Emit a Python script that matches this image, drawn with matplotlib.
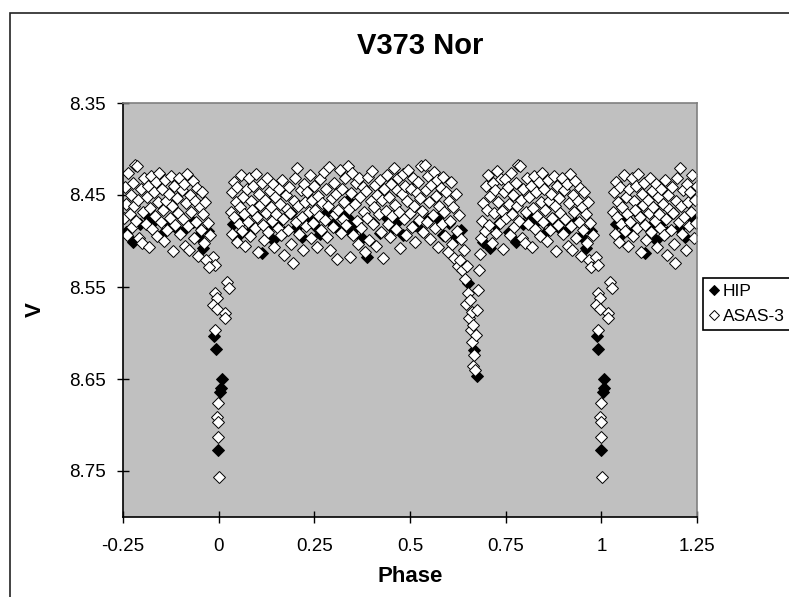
import matplotlib
matplotlib.use('Agg')
import matplotlib.pyplot as plt
from matplotlib.patches import Rectangle
from matplotlib.lines import Line2D
import numpy as np

# ---------------- data (phase folded over one cycle, -0.02 .. 0.98) ----------------
hip_phase = [0.038, 0.052, 0.067, 0.081, 0.098, 0.113, 0.128, 0.142, 0.158, 0.172,
             0.188, 0.203, 0.219, 0.236, 0.251, 0.266, 0.283, 0.298, 0.314, 0.328,
             0.337, 0.343, 0.347, 0.362, 0.375, 0.388, 0.403, 0.422, 0.437, 0.452,
             0.468, 0.483, 0.498, 0.514, 0.531, 0.548, 0.570, 0.586, 0.603, 0.619,
             0.634, 0.651, 0.667, 0.675, 0.691, 0.709, 0.724, 0.741, 0.758, 0.776,
             0.794, 0.812, 0.832, 0.851, 0.868, 0.889, 0.910, 0.932, 0.946, 0.959,
             0.972, -0.011, -0.008, 0.008, 0.006, 0.004, -0.002]
hip_mag = [8.481, 8.494, 8.476, 8.489, 8.472, 8.513, 8.485, 8.499, 8.479, 8.490,
           8.470, 8.486, 8.496, 8.475, 8.484, 8.492, 8.469, 8.481, 8.488, 8.472,
           8.455, 8.477, 8.491, 8.484, 8.497, 8.517, 8.480, 8.491, 8.474, 8.486,
           8.478, 8.494, 8.471, 8.483, 8.489, 8.476, 8.475, 8.493, 8.480, 8.496,
           8.488, 8.546, 8.619, 8.647, 8.501, 8.508, 8.484, 8.477, 8.490, 8.501,
           8.482, 8.473, 8.478, 8.492, 8.480, 8.486, 8.488, 8.479, 8.495, 8.508,
           8.489, 8.603, 8.617, 8.650, 8.660, 8.664, 8.727]

asas_phase = [
    0.031, 0.034, 0.036, 0.039, 0.041, 0.044, 0.047, 0.049, 0.052, 0.055, 0.058, 0.061, 0.064, 0.067, 0.070, 0.073, 0.076,
    0.079, 0.082, 0.085, 0.088, 0.091, 0.094, 0.097, 0.100, 0.103, 0.106, 0.109, 0.112, 0.115, 0.118, 0.121, 0.124, 0.127,
    0.130, 0.133, 0.136, 0.139, 0.142, 0.145, 0.148, 0.151, 0.154, 0.157, 0.160, 0.163, 0.166, 0.169, 0.172, 0.175, 0.178,
    0.181, 0.184, 0.187, 0.190, 0.193, 0.196, 0.199, 0.202, 0.205, 0.208, 0.211, 0.214, 0.217, 0.220, 0.223, 0.226, 0.229,
    0.232, 0.235, 0.238, 0.241, 0.244, 0.247, 0.250, 0.253, 0.256, 0.259, 0.262, 0.265, 0.268, 0.271, 0.274, 0.277, 0.280,
    0.283, 0.286, 0.289, 0.292, 0.295, 0.298, 0.301, 0.304, 0.307, 0.310, 0.313, 0.316, 0.319, 0.322, 0.325, 0.328, 0.331,
    0.334, 0.337, 0.340, 0.343, 0.346, 0.349, 0.352, 0.355, 0.358, 0.361, 0.364, 0.367, 0.370, 0.373, 0.376, 0.379, 0.382,
    0.385, 0.388, 0.391, 0.394, 0.397, 0.400, 0.403, 0.406, 0.409, 0.412, 0.415, 0.418, 0.421, 0.424, 0.427, 0.430,
    0.433, 0.436, 0.439, 0.442, 0.445, 0.448, 0.451, 0.454, 0.457, 0.460, 0.463, 0.466, 0.469, 0.472, 0.475, 0.478,
    0.481, 0.484, 0.487, 0.490, 0.493, 0.496, 0.499, 0.502, 0.505, 0.508, 0.511, 0.514, 0.517, 0.520, 0.523, 0.526, 0.529,
    0.532, 0.535, 0.538, 0.541, 0.544, 0.547, 0.550, 0.553, 0.556, 0.559, 0.562, 0.565, 0.568, 0.571, 0.574, 0.577,
    0.580, 0.583, 0.586, 0.589, 0.592, 0.595, 0.598, 0.601, 0.604, 0.607, 0.610, 0.613, 0.616, 0.619, 0.622, 0.625,
    0.628, 0.631, 0.634, 0.637, 0.640, 0.643, 0.646, 0.649, 0.652, 0.654, 0.657, 0.660, 0.662, 0.662, 0.665, 0.665,
    0.668, 0.670, 0.672, 0.674, 0.677, 0.680, 0.683, 0.686, 0.689, 0.692, 0.695, 0.698,
    0.701, 0.704, 0.707, 0.710, 0.713, 0.716, 0.719, 0.722, 0.725, 0.728, 0.731, 0.734, 0.737, 0.740, 0.743, 0.746, 0.749,
    0.752, 0.755, 0.758, 0.761, 0.764, 0.767, 0.770, 0.773, 0.776, 0.779, 0.782, 0.785, 0.787, 0.790, 0.793, 0.796, 0.800,
    0.803, 0.806, 0.809, 0.812, 0.815, 0.818, 0.821, 0.824, 0.827, 0.830, 0.833, 0.836, 0.839, 0.842, 0.845, 0.848,
    0.851, 0.854, 0.857, 0.860, 0.863, 0.866, 0.869, 0.872, 0.875, 0.878, 0.881, 0.884, 0.887, 0.890, 0.893, 0.897, 0.900,
    0.903, 0.906, 0.909, 0.912, 0.915, 0.918, 0.921, 0.923, 0.926, 0.929, 0.932, 0.935, 0.938, 0.941, 0.944, 0.947, 0.950,
    0.953, 0.956, 0.959, 0.962, 0.965, 0.968, 0.971, 0.974, 0.977,
    -0.015, -0.010, 0.022, 0.027, -0.010, -0.004, -0.015, -0.004, 0.017, 0.017, -0.010,
    -0.002, -0.004, -0.002, -0.002, 0.001]
asas_mag = [
    8.468, 8.447, 8.492, 8.436, 8.474, 8.458, 8.501, 8.441, 8.482, 8.463, 8.428, 8.489, 8.452, 8.471, 8.505, 8.444, 8.479,
    8.432, 8.495, 8.457, 8.466, 8.440, 8.486, 8.427, 8.474, 8.512, 8.449, 8.461, 8.437, 8.483, 8.499, 8.455, 8.470, 8.431,
    8.490, 8.446, 8.463, 8.478, 8.438, 8.507, 8.452, 8.471, 8.486, 8.443, 8.460, 8.494, 8.434, 8.476, 8.515, 8.450, 8.465,
    8.488, 8.441, 8.470, 8.503, 8.524, 8.456, 8.432, 8.479, 8.421, 8.462, 8.492, 8.445, 8.474, 8.510, 8.438, 8.458, 8.484,
    8.447, 8.469, 8.428, 8.497, 8.455, 8.480, 8.440, 8.466, 8.506, 8.451, 8.473, 8.433, 8.488, 8.459, 8.425, 8.477, 8.443,
    8.496, 8.462, 8.420, 8.510, 8.453, 8.485, 8.437, 8.471, 8.449, 8.520, 8.466, 8.423, 8.491, 8.444, 8.476, 8.458, 8.432,
    8.483, 8.419, 8.465, 8.517, 8.448, 8.426, 8.494, 8.460, 8.437, 8.478, 8.503, 8.431, 8.452, 8.486, 8.441, 8.468, 8.512,
    8.446, 8.475, 8.430, 8.499, 8.457, 8.424, 8.482, 8.463, 8.439, 8.505, 8.450, 8.471, 8.434, 8.490, 8.455, 8.518,
    8.444, 8.467, 8.428, 8.481, 8.452, 8.496, 8.438, 8.473, 8.421, 8.461, 8.487, 8.445, 8.432, 8.469, 8.508, 8.449,
    8.427, 8.476, 8.440, 8.493, 8.456, 8.423, 8.470, 8.444, 8.485, 8.431, 8.462, 8.501, 8.448, 8.436, 8.477, 8.453, 8.419,
    8.467, 8.490, 8.417, 8.445, 8.479, 8.429, 8.458, 8.498, 8.439, 8.472, 8.425, 8.486, 8.451, 8.434, 8.507, 8.462,
    8.442, 8.481, 8.430, 8.468, 8.495, 8.447, 8.512, 8.456, 8.478, 8.436, 8.503, 8.463, 8.519, 8.449, 8.489, 8.527,
    8.472, 8.521, 8.498, 8.532, 8.510, 8.541, 8.569, 8.527, 8.556, 8.584, 8.564, 8.597, 8.577, 8.610, 8.591, 8.636,
    8.624, 8.640, 8.602, 8.575, 8.553, 8.531, 8.514, 8.497, 8.478, 8.459, 8.489, 8.440,
    8.466, 8.428, 8.483, 8.451, 8.502, 8.437, 8.470, 8.445, 8.491, 8.424, 8.458, 8.480, 8.433, 8.467, 8.509, 8.447, 8.433,
    8.475, 8.441, 8.460, 8.493, 8.426, 8.471, 8.450, 8.485, 8.437, 8.462, 8.417, 8.478, 8.419, 8.455, 8.497, 8.443, 8.502,
    8.468, 8.432, 8.481, 8.452, 8.440, 8.506, 8.464, 8.429, 8.487, 8.447, 8.473, 8.436, 8.495, 8.458, 8.426, 8.479,
    8.443, 8.466, 8.500, 8.434, 8.457, 8.488, 8.449, 8.475, 8.429, 8.462, 8.511, 8.440, 8.483, 8.453, 8.470, 8.432, 8.492,
    8.445, 8.476, 8.438, 8.505, 8.459, 8.427, 8.484, 8.510, 8.450, 8.468, 8.435, 8.497, 8.456, 8.479, 8.442, 8.516, 8.463,
    8.488, 8.447, 8.471, 8.502, 8.458, 8.521, 8.480, 8.528, 8.494,
    8.517, 8.526, 8.545, 8.551, 8.557, 8.562, 8.570, 8.574, 8.578, 8.584, 8.597,
    8.676, 8.691, 8.697, 8.713, 8.757]

series_names = ['HIP', 'ASAS-3']
title_text = 'V373 Nor'
x_label = 'Phase'
y_label = 'V'
x_ticks = [-0.25, 0, 0.25, 0.5, 0.75, 1, 1.25]
x_tick_labels = ['-0.25', '0', '0.25', '0.5', '0.75', '1', '1.25']
y_ticks = [8.35, 8.45, 8.55, 8.65, 8.75]
y_tick_labels = ['8.35', '8.45', '8.55', '8.65', '8.75']
x_range = (-0.25, 1.25)
y_range = (8.80, 8.35)


def unfold(ph, mg):
    """Repeat the one-cycle data so that it covers phase -0.25 .. 1.25."""
    ph = np.asarray(ph, dtype=float)
    mg = np.asarray(mg, dtype=float)
    hi = ph + 1 <= x_range[1]
    lo = ph - 1 >= x_range[0]
    xs = np.concatenate([ph, ph[hi] + 1, ph[lo] - 1])
    ys = np.concatenate([mg, mg[hi], mg[lo]])
    return xs, ys


plt.rcParams['font.family'] = ['Liberation Sans', 'DejaVu Sans']

W, H = 789, 597
fig = plt.figure(figsize=(W / 100, H / 100), dpi=100)
fig.patch.set_facecolor('white')

# chart-area border (extends past right and bottom edges)
fig.add_artist(Rectangle((10 / W, -0.2), 1.5, 1.2 - 13 / H, transform=fig.transFigure,
                         fill=False, edgecolor='#222222', linewidth=1.2))

ax = fig.add_axes([123 / W, 80 / H, 574 / W, 414 / H])
ax.set_facecolor('#C0C0C0')

hx, hy = unfold(hip_phase, hip_mag)
axp, ayp = unfold(asas_phase, asas_mag)

MS = 6.4
ax.plot(hx, hy, linestyle='none', marker='D', markersize=MS,
        markerfacecolor='black', markeredgecolor='black', markeredgewidth=0.7,
        label=series_names[0], clip_on=True)
ax.plot(axp, ayp, linestyle='none', marker='D', markersize=MS,
        markerfacecolor='white', markeredgecolor='black', markeredgewidth=0.7,
        label=series_names[1], clip_on=True)

ax.set_xlim(*x_range)
ax.set_ylim(*y_range)
ax.set_xticks(x_ticks)
ax.set_xticklabels(x_tick_labels)
ax.set_yticks(y_ticks)
ax.set_yticklabels(y_tick_labels)
ax.tick_params(axis='both', direction='inout', length=8.5, width=1, color='black',
               labelsize=13.5, labelcolor='black')
ax.tick_params(axis='x', pad=11)
ax.tick_params(axis='y', pad=8)

for s in ['top', 'right']:
    ax.spines[s].set_color('#808080')
    ax.spines[s].set_linewidth(1.2)
for s in ['left', 'bottom']:
    ax.spines[s].set_color('black')
    ax.spines[s].set_linewidth(1.2)

fig.text(420 / W, 1 - 46 / H, title_text, ha='center', va='center',
         fontsize=21, fontweight='bold')
fig.text(410 / W, 1 - 576 / H, x_label, ha='center', va='center',
         fontsize=16, fontweight='bold')
fig.text(35 / W, 1 - 310 / H, y_label, ha='center', va='center',
         fontsize=16, fontweight='bold', rotation=90)

handles = [Line2D([], [], linestyle='none', marker='D', markersize=5.2,
                  markerfacecolor='black', markeredgecolor='black', markeredgewidth=0.7),
           Line2D([], [], linestyle='none', marker='D', markersize=5.2,
                  markerfacecolor='white', markeredgecolor='black', markeredgewidth=0.7)]
leg = fig.legend(handles, series_names, loc='upper left', mode='expand',
                 bbox_to_anchor=(703 / W, (H - 339) / H, 110 / W, 61 / H),
                 bbox_transform=fig.transFigure,
                 frameon=True, fancybox=False, edgecolor='black', framealpha=1,
                 fontsize=12.5, handlelength=0.6, handletextpad=0.2,
                 borderpad=0.35, labelspacing=0.55, borderaxespad=0)
leg.get_frame().set_linewidth(1.2)

fig.savefig('out.png', dpi=100, facecolor='white')
